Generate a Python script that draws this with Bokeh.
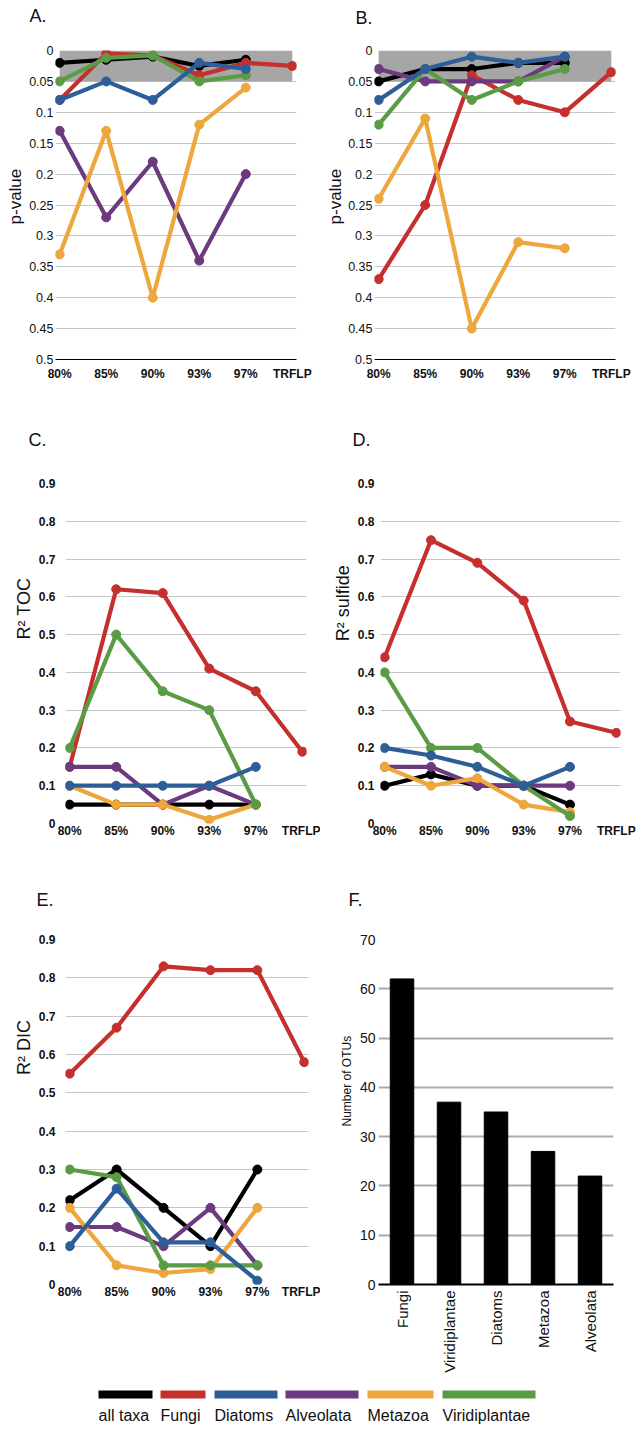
import math
from bokeh.plotting import figure
from bokeh.layouts import column, row
from bokeh.models import Range1d, FixedTicker, FactorRange, NumeralTickFormatter
from bokeh.core.properties import value
from bokeh.embed import file_html
from bokeh.resources import INLINE

# ---------------- data ----------------
cutoffs = ["80%", "85%", "90%", "93%", "97%", "TRFLP"]
taxa = ["all taxa", "Fungi", "Diatoms", "Alveolata", "Metazoa", "Viridiplantae"]
sig_threshold = 0.05

# A. p-values
A_all_taxa = [0.02, 0.015, 0.01, 0.025, 0.015, None]
A_fungi = [0.08, 0.005, 0.008, 0.04, 0.02, 0.025]
A_diatoms = [0.08, 0.05, 0.08, 0.02, 0.03, None]
A_alveolata = [0.13, 0.27, 0.18, 0.34, 0.20, None]
A_metazoa = [0.33, 0.13, 0.40, 0.12, 0.06, None]
A_viridiplantae = [0.05, 0.012, 0.008, 0.05, 0.04, None]

# B. p-values
B_all_taxa = [0.05, 0.03, 0.03, 0.02, 0.02, None]
B_fungi = [0.37, 0.25, 0.04, 0.08, 0.10, 0.035]
B_diatoms = [0.08, 0.03, 0.01, 0.02, 0.01, None]
B_alveolata = [0.03, 0.05, 0.05, 0.05, 0.01, None]
B_metazoa = [0.24, 0.11, 0.45, 0.31, 0.32, None]
B_viridiplantae = [0.12, 0.03, 0.08, 0.05, 0.03, None]

# C. R2 TOC
C_all_taxa = [0.05, 0.05, 0.05, 0.05, 0.05, None]
C_fungi = [0.15, 0.62, 0.61, 0.41, 0.35, 0.19]
C_diatoms = [0.10, 0.10, 0.10, 0.10, 0.15, None]
C_alveolata = [0.15, 0.15, 0.05, 0.10, 0.05, None]
C_metazoa = [0.10, 0.05, 0.05, 0.01, 0.05, None]
C_viridiplantae = [0.20, 0.50, 0.35, 0.30, 0.05, None]

# D. R2 sulfide
D_all_taxa = [0.10, 0.13, 0.10, 0.10, 0.05, None]
D_fungi = [0.44, 0.75, 0.69, 0.59, 0.27, 0.24]
D_diatoms = [0.20, 0.18, 0.15, 0.10, 0.15, None]
D_alveolata = [0.15, 0.15, 0.10, 0.10, 0.10, None]
D_metazoa = [0.15, 0.10, 0.12, 0.05, 0.03, None]
D_viridiplantae = [0.40, 0.20, 0.20, 0.10, 0.02, None]

# E. R2 DIC
E_all_taxa = [0.22, 0.30, 0.20, 0.10, 0.30, None]
E_fungi = [0.55, 0.67, 0.83, 0.82, 0.82, 0.58]
E_diatoms = [0.10, 0.25, 0.11, 0.11, 0.01, None]
E_alveolata = [0.15, 0.15, 0.10, 0.20, 0.05, None]
E_metazoa = [0.20, 0.05, 0.03, 0.04, 0.20, None]
E_viridiplantae = [0.30, 0.28, 0.05, 0.05, 0.05, None]

# F. number of OTUs
bar_taxa = ["Fungi", "Viridiplantae", "Diatoms", "Metazoa", "Alveolata"]
otu_counts = [62, 37, 35, 27, 22]

p_ticks = [0, 0.05, 0.1, 0.15, 0.2, 0.25, 0.3, 0.35, 0.4, 0.45, 0.5]
r2_ticks = [0, 0.1, 0.2, 0.3, 0.4, 0.5, 0.6, 0.7, 0.8, 0.9]
otu_ticks = [0, 10, 20, 30, 40, 50, 60, 70]

# ---------------- styles ----------------
colors = ["#000000", "#c5302f", "#2d5e97", "#6c3a7f", "#eda73d", "#5a9c45"]
draw_order = [0, 1, 3, 4, 5, 2]
FONT = "Liberation Sans"
BAND = "#a6a6a6"
GRID = "#c6c6c6"
XPAD = 0.09

x_pos = list(range(len(cutoffs)))


def nan(v):
    return [float("nan") if a is None else a for a in v]


def blank(width, height, xr, yr):
    f = figure(width=width, height=height, output_backend="svg", toolbar_location=None,
               x_range=xr, y_range=yr, x_axis_location=None, y_axis_location=None,
               min_border_left=0, min_border_right=0, min_border_top=0, min_border_bottom=0)
    f.grid.visible = False
    f.outline_line_color = None
    return f


def header(height, letters, xs, tops):
    f = blank(640, height, Range1d(0, 640), Range1d(height, 0))
    f.text(x=xs, y=tops, text=letters, text_baseline="top", text_align="left",
           text_font_size=value("18px"), text_font=value(FONT), text_color="#111111")
    return f


def side_label(text, width, top, bottom, xc, yc, size):
    f = blank(width, bottom - top, Range1d(0, width), Range1d(bottom, top))
    f.text(x=[xc], y=[yc], text=[text], angle=math.pi / 2, text_baseline="middle",
           text_align="center", text_font_size=value(size), text_font=value(FONT),
           text_color="#111111")
    return f


def line_panel(series, width, height, left, right, top, bottom,
               y_range, yticks, yfmt, tick_size, tick_style, ytick_standoff,
               baseline, xtick_standoff, band=False):
    p = figure(width=width, height=height, output_backend="svg", toolbar_location=None,
               x_range=Range1d(-XPAD, len(cutoffs) - 1 + XPAD), y_range=y_range,
               min_border_left=left, min_border_right=right,
               min_border_top=top, min_border_bottom=bottom)
    p.outline_line_color = None
    p.xgrid.visible = False
    p.ygrid.ticker = FixedTicker(ticks=yticks)
    p.ygrid.grid_line_color = GRID
    p.ygrid.grid_line_width = 1

    p.yaxis.ticker = FixedTicker(ticks=yticks)
    p.yaxis.formatter = NumeralTickFormatter(format=yfmt)
    p.yaxis.axis_line_color = None
    p.yaxis.major_tick_line_color = None
    p.yaxis.minor_tick_line_color = None
    p.yaxis.major_tick_out = 0
    p.yaxis.major_tick_in = 0
    p.yaxis.minor_tick_out = 0
    p.yaxis.major_label_text_font = FONT
    p.yaxis.major_label_text_font_size = tick_size
    p.yaxis.major_label_text_font_style = tick_style
    p.yaxis.major_label_text_color = "#111111"
    p.yaxis.major_label_standoff = ytick_standoff

    p.xaxis.ticker = FixedTicker(ticks=x_pos)
    p.xaxis.major_label_overrides = {i: c for i, c in enumerate(cutoffs)}
    p.xaxis.axis_line_color = "#000000" if baseline else None
    p.xaxis.axis_line_width = 1.2
    p.xaxis.major_tick_line_color = None
    p.xaxis.minor_tick_line_color = None
    p.xaxis.major_tick_out = 0
    p.xaxis.major_tick_in = 0
    p.xaxis.minor_tick_out = 0
    p.xaxis.major_label_text_font = FONT
    p.xaxis.major_label_text_font_size = "12px"
    p.xaxis.major_label_text_font_style = "bold"
    p.xaxis.major_label_text_color = "#111111"
    p.xaxis.major_label_standoff = xtick_standoff

    if band:
        p.quad(left=x_pos[0], right=x_pos[-1], bottom=0, top=sig_threshold,
               fill_color=BAND, line_color=None)

    for i in draw_order:
        ys = nan(series[i])
        p.line(x_pos, ys, line_color=colors[i], line_width=4.2, line_join="round")
        p.scatter(x_pos, ys, size=9, fill_color=colors[i], line_color=colors[i])
    return p


# ---- row 1 (A, B): page y 0-398 ----
h1 = header(30, ["A.", "B."], [29, 355], [5, 7])
labA = side_label("p-value", 26, 30, 398, 15, 204, "17px")
pa = line_panel([A_all_taxa, A_fungi, A_diatoms, A_alveolata, A_metazoa, A_viridiplantae],
                294, 368, 29, 24, 20, 39, Range1d(0.5, 0), p_ticks, "0.[00]",
                "12.5px", "normal", 2, True, 7, band=True)
labB = side_label("p-value", 25, 30, 398, 14.5, 204, "17px")
pb = line_panel([B_all_taxa, B_fungi, B_diatoms, B_alveolata, B_metazoa, B_viridiplantae],
                295, 368, 27, 25, 20, 39, Range1d(0.5, 0), p_ticks, "0.[00]",
                "12.5px", "normal", 2, True, 7, band=True)

# ---- row 2 (C, D): page y 398-840 ----
h2 = header(56, ["C.", "D."], [28, 352], [31, 31])
labC = side_label("R\u00b2 TOC", 35, 454, 840, 23.5, 596, "18px")
pc = line_panel([C_all_taxa, C_fungi, C_diatoms, C_alveolata, C_metazoa, C_viridiplantae],
                285, 386, 27, 14, 26, 15, Range1d(0, 0.9), r2_ticks, "0.[0]",
                "12px", "bold", 10, False, 0)
labD = side_label("R\u00b2 sulfide", 34, 454, 840, 22.5, 590, "18px")
pd_ = line_panel([D_all_taxa, D_fungi, D_diatoms, D_alveolata, D_metazoa, D_viridiplantae],
                 286, 386, 23, 20, 29, 15, Range1d(0, 0.9), r2_ticks, "0.[0]",
                 "12px", "bold", 6, False, 0)

# ---- row 3 (E, F): page y 840-1382 ----
h3 = header(72, ["E.", "F."], [36, 348], [49, 49])
labE = side_label("R\u00b2 DIC", 35, 912, 1382, 23.5, 1059, "18px")
pe = line_panel([E_all_taxa, E_fungi, E_diatoms, E_alveolata, E_metazoa, E_viridiplantae],
                285, 470, 27, 12, 27, 98, Range1d(0, 0.9), r2_ticks, "0.[0]",
                "12px", "bold", 10, False, 0)
labF = side_label("Number of OTUs", 36, 912, 1382, 26.5, 1105, "12px")

pf = figure(width=284, height=470, output_backend="svg", toolbar_location=None,
            x_range=FactorRange(*bar_taxa), y_range=Range1d(0, 70),
            min_border_left=21, min_border_right=27, min_border_top=26, min_border_bottom=98)
pf.outline_line_color = None
pf.xgrid.visible = False
pf.ygrid.ticker = FixedTicker(ticks=otu_ticks)
pf.ygrid.grid_line_color = "#ababab"
pf.ygrid.grid_line_width = 2
pf.vbar(x=bar_taxa, top=otu_counts, width=0.5, fill_color="#000000", line_color="#000000")
pf.yaxis.ticker = FixedTicker(ticks=otu_ticks)
pf.yaxis.axis_line_color = None
pf.yaxis.major_tick_line_color = None
pf.yaxis.minor_tick_line_color = None
pf.yaxis.major_tick_out = 0
pf.yaxis.major_tick_in = 0
pf.yaxis.major_label_text_font = FONT
pf.yaxis.major_label_text_font_size = "14px"
pf.yaxis.major_label_text_color = "#111111"
pf.yaxis.major_label_standoff = 3
pf.xaxis.axis_line_color = "#000000"
pf.xaxis.axis_line_width = 2
pf.xaxis.major_tick_line_color = None
pf.xaxis.minor_tick_line_color = None
pf.xaxis.major_tick_out = 0
pf.xaxis.major_tick_in = 0
pf.xaxis.major_label_orientation = math.pi / 2
pf.xaxis.major_label_text_font = FONT
pf.xaxis.major_label_text_font_size = "15px"
pf.xaxis.major_label_text_color = "#111111"
pf.xaxis.major_label_standoff = 6

# ---- legend (page-pixel layout of the key) ----
legend_x0 = [98, 160, 214, 285, 367, 442]
legend_x1 = [152, 205, 277, 358, 433, 535]
leg = blank(640, 48, Range1d(0, 640), Range1d(48, 0))
leg.segment(x0=legend_x0, x1=legend_x1, y0=[12] * 6, y1=[12] * 6,
            line_color=colors, line_width=8)
leg.text(x=legend_x0, y=[24] * 6, text=taxa, text_baseline="top", text_align="left",
         text_font_size=value("16px"), text_font=value(FONT), text_color="#111111")

layout = column(h1, row(labA, pa, labB, pb),
                h2, row(labC, pc, labD, pd_),
                h3, row(labE, pe, labF, pf),
                leg)
open("out.html", "w").write(file_html(layout, INLINE))
